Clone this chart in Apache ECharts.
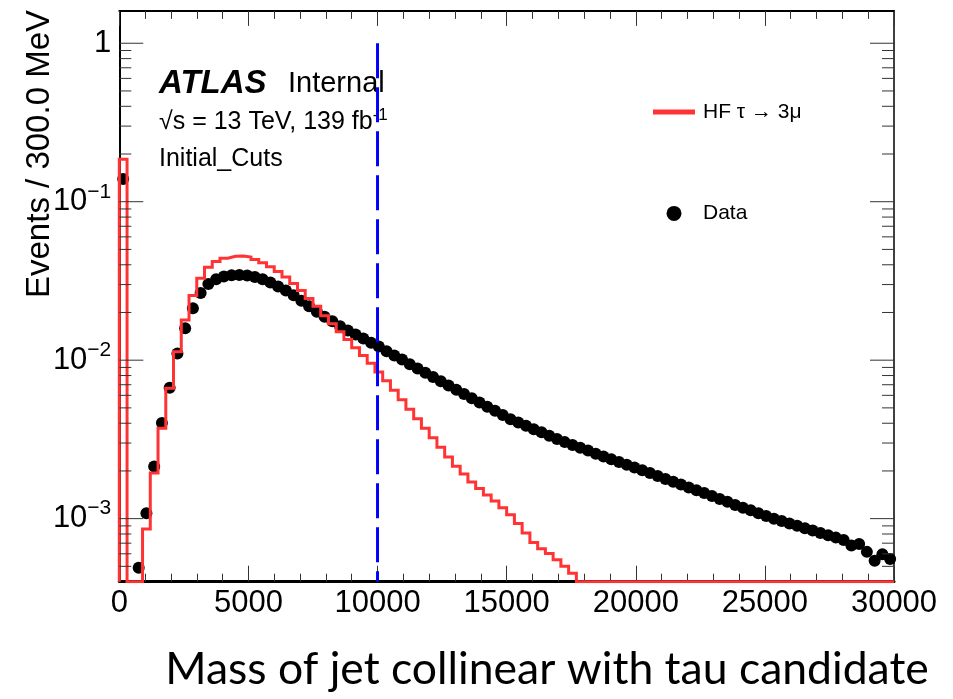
<!DOCTYPE html>
<html><head><meta charset="utf-8">
<script src="https://cdn.jsdelivr.net/npm/echarts@6/dist/echarts.min.js"></script>
<style>html,body{margin:0;padding:0;background:#fff}#c{width:953px;height:699px}</style>
</head><body><div id="c"></div>
<script>
// ---- binning (300 MeV bins from 0 to 30000) ----
const binLow = 0;
const binWidth = 300;
const nBins = 100;

// ---- Data (black points), one value per bin; null = empty bin ----
const dataValues = [
  0.139, null, 4.9e-4, 1.08e-3, 2.13e-3, 4.01e-3, 6.71e-3, 0.0110, 0.0159, 0.0213,
  0.0265, 0.0302, 0.0324, 0.0337, 0.0344, 0.0345, 0.0342, 0.0335, 0.0324, 0.0309,
  0.0292, 0.0275, 0.0257, 0.0237, 0.0219, 0.0202, 0.0188, 0.0176, 0.0164, 0.0154,
  0.0145, 0.0137, 0.0129, 0.0122, 0.0114, 0.0107, 0.0101, 0.00944, 0.00887, 0.00832,
  0.00782, 0.00735, 0.00692, 0.00650, 0.00611, 0.00575, 0.00541, 0.00508, 0.00479, 0.00451,
  0.00424, 0.00404, 0.00385, 0.00367, 0.00351, 0.00334, 0.00318, 0.00304, 0.00292, 0.00280,
  0.00269, 0.00257, 0.00247, 0.00237, 0.00228, 0.00219, 0.00210, 0.00202, 0.00194, 0.00186,
  0.00178, 0.00171, 0.00164, 0.00157, 0.00151, 0.00145, 0.00139, 0.00133, 0.00128, 0.00122,
  0.00117, 0.00113, 0.00108, 0.00104, 0.00100, 9.66e-4, 9.33e-4, 9.02e-4, 8.71e-4, 8.41e-4,
  8.13e-4, 7.85e-4, 7.59e-4, 7.33e-4, 6.76e-4, 6.92e-4, 6.17e-4, 5.43e-4, 5.96e-4, 5.56e-4
];

// ---- HF tau -> 3mu histogram (red), one value per bin; 0 = empty bin ----
const hfValues = [
  0.185, 0, 0, 8.59e-4, 1.94e-3, 3.72e-3, 6.65e-3, 0.0113, 0.0179, 0.0256,
  0.0329, 0.0386, 0.0419, 0.0440, 0.0452, 0.0454, 0.0447, 0.0432, 0.0412, 0.0389,
  0.0363, 0.0335, 0.0305, 0.0275, 0.0245, 0.0219, 0.0191, 0.0170, 0.0151, 0.0135,
  0.0120, 0.0107, 0.00955, 0.00841, 0.00741, 0.00646, 0.00562, 0.00490, 0.00427, 0.00372,
  0.00324, 0.00282, 0.00245, 0.00214, 0.00191, 0.00170, 0.00155, 0.00141, 0.00129, 0.00117,
  0.00106, 9.33e-4, 8.13e-4, 7.08e-4, 6.46e-4, 6.03e-4, 5.50e-4, 5.01e-4, 4.53e-4, 0,
  0, 0, 0, 0, 0, 0, 0, 0, 0, 0,
  0, 0, 0, 0, 0, 0, 0, 0, 0, 0,
  0, 0, 0, 0, 0, 0, 0, 0, 0, 0,
  0, 0, 0, 0, 0, 0, 0, 0, 0, 0
];

// ---- cut line ----
const cutValue = 10000;

// ---- axes ----
const xMin = 0, xMax = 30000, xInterval = 5000;
const yMin = 4.0e-4, yMax = 1.6;
const yMajorTicks = [0.001, 0.01, 0.1, 1];
const yMinorMultipliers = [2, 3, 4, 5, 6, 7, 8, 9];
const yMinorDecades = [0.0001, 0.001, 0.01, 0.1];

const FONT = '"Liberation Sans", Arial, Helvetica, sans-serif';
const HF_NAME = 'HF \u03c4 \u2192 3\u03bc';

// build histogram outline from bin values (zero bins drawn at the frame bottom)
const hfLine = [[binLow, yMin]];
hfValues.forEach(function (v, i) {
  const lo = binLow + i * binWidth, hi = lo + binWidth;
  const y = v > 0 ? v : yMin;
  hfLine.push([lo, y], [hi, y]);
});
hfLine.push([binLow + nBins * binWidth, yMin]);

const dataPts = [];
dataValues.forEach(function (v, i) {
  if (v != null && v > 0) dataPts.push([binLow + (i + 0.5) * binWidth, v]);
});

const tickData = [];
yMajorTicks.forEach(function (v) { tickData.push([xMin, v, 24]); });
yMinorDecades.forEach(function (d) {
  yMinorMultipliers.forEach(function (m) {
    const v = d * m;
    if (v > yMin && v < yMax) tickData.push([xMin, v, 12]);
  });
});

function yLabel(v) {
  const lg = Math.log10(v);
  const e = Math.round(lg);
  if (Math.abs(lg - e) > 1e-6) return '';
  if (e === 0) return '{n|1}';
  return '{n|10}{s|' + (e < 0 ? '\u2212' : '') + Math.abs(e) + '}';
}

const chart = echarts.init(document.getElementById('c'), null, {renderer: 'canvas'});
chart.setOption({
  animation: false,
  backgroundColor: '#fff',
  grid: {left: 119.3, right: 59, top: 10.9, bottom: 117.3, containLabel: false},
  xAxis: [{
    type: 'value', position: 'bottom', min: xMin, max: xMax, interval: xInterval,
    axisLine: {show: true, onZero: false, lineStyle: {color: '#000', width: 3}},
    axisTick: {show: true, inside: true, length: 16, lineStyle: {color: '#333', width: 1}},
    minorTick: {show: true, splitNumber: 5, length: 8, lineStyle: {color: '#333', width: 1}},
    axisLabel: {show: true, color: '#000', fontSize: 31, fontFamily: FONT, margin: 6,
      formatter: function (v) { return String(v); }},
    splitLine: {show: false}
  }, {
    type: 'value', position: 'top', min: xMin, max: xMax, interval: xInterval,
    axisLine: {show: true, onZero: false, lineStyle: {color: '#000', width: 2}},
    axisTick: {show: true, inside: true, length: 15, lineStyle: {color: '#333', width: 1}},
    minorTick: {show: true, splitNumber: 5, length: 8, lineStyle: {color: '#333', width: 1}},
    axisLabel: {show: false},
    splitLine: {show: false}
  }],
  yAxis: [{
    type: 'log', logBase: 10, position: 'left', min: yMin, max: yMax,
    axisLine: {show: true, onZero: false, lineStyle: {color: '#000', width: 2}},
    axisTick: {show: false},
    axisLabel: {
      show: true, margin: 8, formatter: yLabel,
      rich: {
        n: {fontSize: 31, fontFamily: FONT, color: '#000'},
        s: {fontSize: 21, fontFamily: FONT, color: '#000', padding: [0, 0, 20, 0]}
      }
    },
    splitLine: {show: false}
  }, {
    type: 'log', logBase: 10, position: 'right', min: yMin, max: yMax,
    axisLine: {show: true, onZero: false, lineStyle: {color: '#000', width: 1.5}},
    axisTick: {show: false}, axisLabel: {show: false}, splitLine: {show: false}
  }],
  legend: [{
    data: [{name: HF_NAME, icon: 'rect', itemStyle: {color: '#ff3333'}}],
    left: 648, top: 96.4, orient: 'vertical',
    itemWidth: 42, itemHeight: 5,
    textStyle: {fontSize: 21, fontFamily: FONT, color: '#000', padding: [0, 0, 0, 3]}
  }, {
    data: [{name: 'Data', icon: 'circle', itemStyle: {color: '#000', opacity: 1}}],
    left: 661.5, top: 197.9, orient: 'vertical',
    itemWidth: 42, itemHeight: 15,
    textStyle: {fontSize: 21, fontFamily: FONT, color: '#000', padding: [0, 0, 0, 3]}
  }],
  graphic: [
    {type: 'text', x: 40, y: 10, rotation: Math.PI / 2,
     style: {text: 'Events / 300.0 MeV', fontSize: 33, fontFamily: FONT, fill: '#000', align: 'right', verticalAlign: 'middle'}},
    {type: 'text', x: 159, y: 84,
     style: {text: 'ATLAS', fontSize: 33, fontFamily: FONT, fontWeight: 'bold', fontStyle: 'italic', fill: '#000', align: 'left', verticalAlign: 'middle'}},
    {type: 'text', x: 288, y: 84,
     style: {text: 'Internal', fontSize: 29, fontFamily: FONT, fill: '#000', align: 'left', verticalAlign: 'middle'}},
    {type: 'text', x: 159, y: 122,
     style: {text: '{n|\u221as = 13 TeV, 139 fb}{s|-1}', align: 'left', verticalAlign: 'middle',
       rich: {n: {fontSize: 25, fontFamily: FONT, fill: '#000', color: '#000'},
              s: {fontSize: 17, fontFamily: FONT, fill: '#000', color: '#000', padding: [0, 0, 14, 0]}}}},
    {type: 'text', x: 159, y: 159,
     style: {text: 'Initial_Cuts', fontSize: 25, fontFamily: FONT, fill: '#000', align: 'left', verticalAlign: 'middle'}},
    {type: 'text', x: 547, y: 670,
     style: {text: 'Mass of jet collinear with tau candidate', fontSize: 44.5, fontFamily: 'Lato, "Open Sans", sans-serif', fill: '#000', align: 'center', verticalAlign: 'middle'}}
  ],
  series: [{
    name: 'Data', type: 'scatter', xAxisIndex: 0, yAxisIndex: 0,
    data: dataPts, symbol: 'circle', symbolSize: 12, large: false,
    itemStyle: {color: '#000', opacity: 1}, z: 3
  }, {
    name: HF_NAME, type: 'line', xAxisIndex: 0, yAxisIndex: 0,
    data: hfLine, symbol: 'none', showSymbol: false,
    lineStyle: {color: '#ff3333', width: 3, join: 'miter'}, itemStyle: {color: '#ff3333'}, z: 4
  }, {
    name: 'cut', type: 'line', xAxisIndex: 0, yAxisIndex: 0,
    data: [[cutValue, 1], [cutValue, yMin]], symbol: 'none', showSymbol: false,
    lineStyle: {color: '#0000ff', width: 3, type: [35, 9]}, z: 5
  }, {
    name: 'yticks', type: 'custom', xAxisIndex: 0, yAxisIndex: 0,
    data: tickData, encode: {x: 0, y: 1}, z: 6, silent: true,
    renderItem: function (params, api) {
      const v = api.value(1), len = api.value(2);
      const pl = api.coord([xMin, v]);
      const pr = api.coord([xMax, v]);
      return {type: 'group', children: [
        {type: 'line', shape: {x1: pl[0], y1: pl[1], x2: pl[0] + len, y2: pl[1]}, style: {stroke: '#333', lineWidth: 1}},
        {type: 'line', shape: {x1: pr[0] - len, y1: pr[1], x2: pr[0], y2: pr[1]}, style: {stroke: '#333', lineWidth: 1}}
      ]};
    }
  }]
});
</script>
</body></html>
